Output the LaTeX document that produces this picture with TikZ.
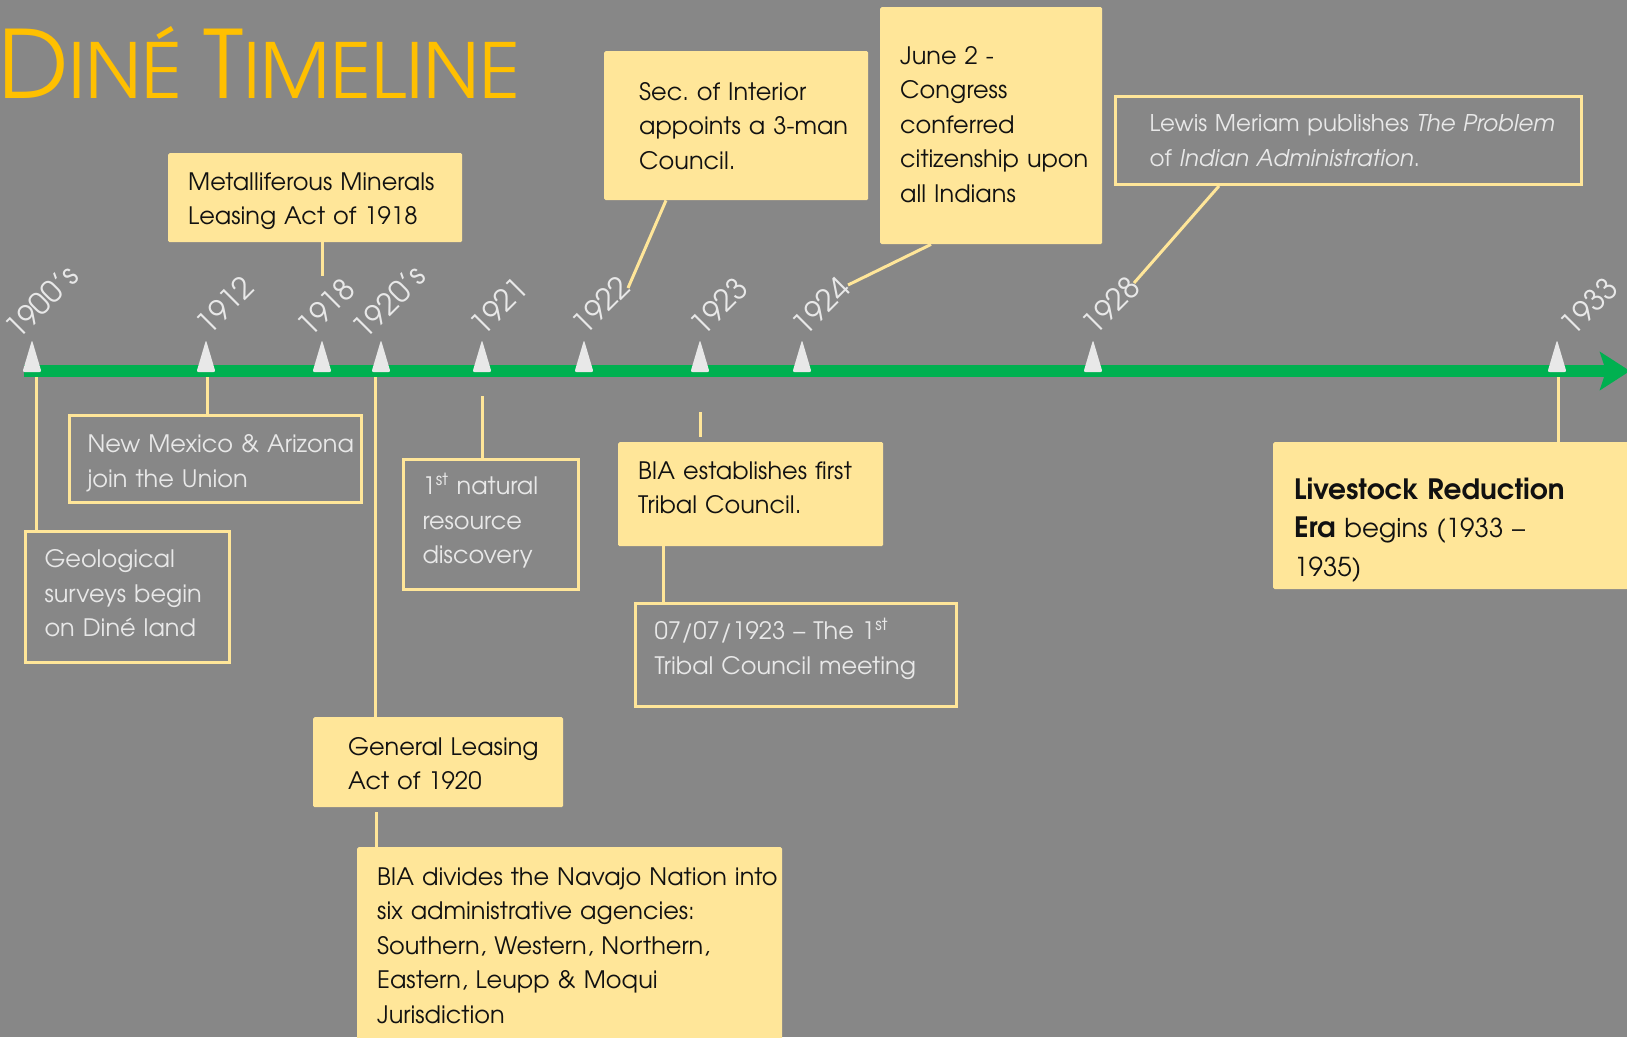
\documentclass[tikz,border=0pt]{standalone}
\usepackage{fontspec}
\setmainfont{TeX Gyre Adventor}
\usetikzlibrary{arrows.meta}

\definecolor{canvas}{HTML}{878787}
\definecolor{note}{HTML}{FFE699}
\definecolor{titlegold}{HTML}{FFC000}
\definecolor{axisgreen}{HTML}{00B050}
\definecolor{pale}{HTML}{E8E8E8}
\definecolor{ink}{HTML}{111111}

\newcommand\bodysize{\fontsize{24}{34.5}\selectfont}
\newcommand\titlebig{\fontsize{94}{94}\selectfont}
\newcommand\titlesmall{\fontsize{76}{76}\selectfont}
\newcommand\eraword[1]{{\fontsize{28}{38.5}\selectfont\bfseries #1}}

\tikzset{
  card/.style={anchor=north west, inner ysep=0pt, align=left, font=\bodysize,
    fill=note, text=ink, rounded corners=1.5pt},
  frame/.style={anchor=north west, inner ysep=0pt, align=left, font=\bodysize,
    draw=note, line width=3pt, text=pale},
  link/.style={draw=note, line width=3pt},
  yearlabel/.style={rotate=45, text=pale, font=\fontsize{30}{30}\selectfont, inner sep=0pt},
  marker/.style={fill=pale, rounded corners=2pt},
}

\frenchspacing
\begin{document}
\begin{tikzpicture}[x=1pt, y=-1pt]
  \fill[canvas] (0,0) rectangle (1627,1037);
  \useasboundingbox (0,0) rectangle (1627,1037);

  % title
  \node[anchor=base west, inner sep=0pt, text=titlegold] (title) at (-2,98)
    {\titlebig D\titlesmall INÉ \titlebig T\titlesmall IMELINE};

  % time axis
  \coordinate (axisstart) at (24,371);
  \coordinate (axisend) at (1630,371);
  \draw[axisgreen, line width=12pt, -{Stealth[length=30pt, width=38pt, inset=6pt]}]
    (axisstart) -- (axisend);

  % year markers
  \foreach \x in {32,206,322,381,482,584,700,802,1093,1557}
    \fill[marker] (\x-9.5,372) -- (\x,340) -- (\x+9.5,372) -- cycle;

  % year labels
  \node[yearlabel] (y1900) at (41.5,302) {1900’s};
  \node[yearlabel] (y1912) at (225,305) {1912};
  \node[yearlabel] (y1918) at (326,307) {1918};
  \node[yearlabel] (y1920) at (389,302) {1920’s};
  \node[yearlabel] (y1921) at (499,306) {1921};
  \node[yearlabel] (y1922) at (601,305) {1922};
  \node[yearlabel] (y1923) at (719,306) {1923};
  \node[yearlabel] (y1924) at (821,306) {1924};
  \node[yearlabel] (y1928) at (1111,305) {1928};
  \node[yearlabel] (y1933) at (1589,306) {1933};

  % event boxes above the axis
  \node[card, inner xsep=20pt, text width=254pt, text height=37pt, text depth=52pt]
    (metal) at (168,153)
    {\mbox{Metalliferous Minerals}\\\mbox{Leasing Act of 1918}};
  \node[card, inner xsep=35pt, text width=194pt, text height=49pt, text depth=100pt]
    (secint) at (604,51)
    {\mbox{Sec. of Interior}\\\mbox{appoints a 3-man}\\\mbox{Council.}};
  \node[card, inner xsep=20pt, text width=182pt, text height=57pt, text depth=180pt]
    (june) at (880,7)
    {\mbox{June 2 -}\\\mbox{Congress}\\\mbox{conferred}\\\mbox{citizenship upon}\\\mbox{all Indians}};
  \node[frame, inner xsep=34pt, text width=398pt, text height=35pt, text depth=53pt,
        font=\fontsize{23}{34.5}\selectfont]
    (lewis) at (1114,95)
    {\mbox{Lewis Meriam publishes \textit{The Problem}}\\\mbox{of \textit{Indian Administration}.}};

  % event boxes below the axis
  \node[frame, inner xsep=18pt, text width=256pt, text height=37pt, text depth=50pt]
    (newmex) at (68,414)
    {\mbox{New Mexico \& Arizona}\\\mbox{join the Union}};
  \node[frame, inner xsep=19pt, text width=166pt, text height=36pt, text depth=95pt]
    (geo) at (24,530)
    {\mbox{Geological}\\\mbox{surveys begin}\\\mbox{on Diné land}};
  \node[card, inner xsep=35pt, text width=180pt, text height=38pt, text depth=52pt]
    (genlease) at (313,717)
    {\mbox{General Leasing}\\\mbox{Act of 1920}};
  \node[card, inner xsep=20pt, text width=385pt, text height=38pt, text depth=165pt]
    (biadiv) at (357,847)
    {\mbox{BIA divides the Navajo Nation into}\\\mbox{six administrative agencies:}\\
     \mbox{Southern, Western, Northern,}\\\mbox{Eastern, Leupp \& Moqui}\\\mbox{Jurisdiction}};
  \node[frame, inner xsep=19pt, text width=137pt, text height=35pt, text depth=95pt]
    (natural) at (402,458)
    {\mbox{1\textsuperscript{st} natural}\\\mbox{resource}\\\mbox{discovery}};
  \node[card, inner xsep=20pt, text width=225pt, text height=37pt, text depth=67pt]
    (bianest) at (618,442)
    {\mbox{BIA establishes first}\\\mbox{Tribal Council.}};
  \node[frame, inner xsep=19pt, text width=283pt, text height=36pt, text depth=67pt]
    (meeting) at (634,602)
    {\mbox{07/07/1923 – The 1\textsuperscript{st}}\\\mbox{Tribal Council meeting}};
  \node[card, inner xsep=21pt, text width=315pt, text height=57pt, text depth=90pt,
        font=\fontsize{26}{38.5}\selectfont]
    (livestock) at (1273,442)
    {\mbox{\eraword{Livestock Reduction}}\\\mbox{\eraword{Era} begins (1933 –}\\\mbox{1935)}};

  % connectors
  \coordinate (s1900) at (36,377);
  \draw[link] (s1900) -- (s1900 |- geo.north);
  \coordinate (s1912) at (207,377);
  \draw[link] (s1912) -- (s1912 |- newmex.north);
  \coordinate (e1918) at (322,276);
  \draw[link] (metal.south -| e1918) -- (e1918);
  \coordinate (s1920) at (375,377);
  \draw[link] (s1920) -- (s1920 |- genlease.north);
  \coordinate (g1920) at (376,812);
  \draw[link] (g1920) -- (g1920 |- biadiv.north);
  \coordinate (s1921) at (482,396);
  \draw[link] (s1921) -- (s1921 |- natural.north);
  \coordinate (b1922) at (666,0);
  \coordinate (e1922) at (628,288);
  \draw[link] (secint.south -| b1922) -- (e1922);
  \coordinate (s1923) at (700,412);
  \coordinate (e1923) at (700,437);
  \draw[link] (s1923) -- (e1923);
  \coordinate (m1923) at (663,0);
  \draw[link] (bianest.south -| m1923) -- (meeting.north -| m1923);
  \coordinate (b1924) at (931,0);
  \coordinate (e1924) at (848,285);
  \draw[link] (june.south -| b1924) -- (e1924);
  \coordinate (b1928) at (1219,0);
  \coordinate (e1928) at (1134,283);
  \draw[link] (lewis.south -| b1928) -- (e1928);
  \coordinate (s1933) at (1558,377);
  \draw[link] (s1933) -- (s1933 |- livestock.north);
\end{tikzpicture}
\end{document}
